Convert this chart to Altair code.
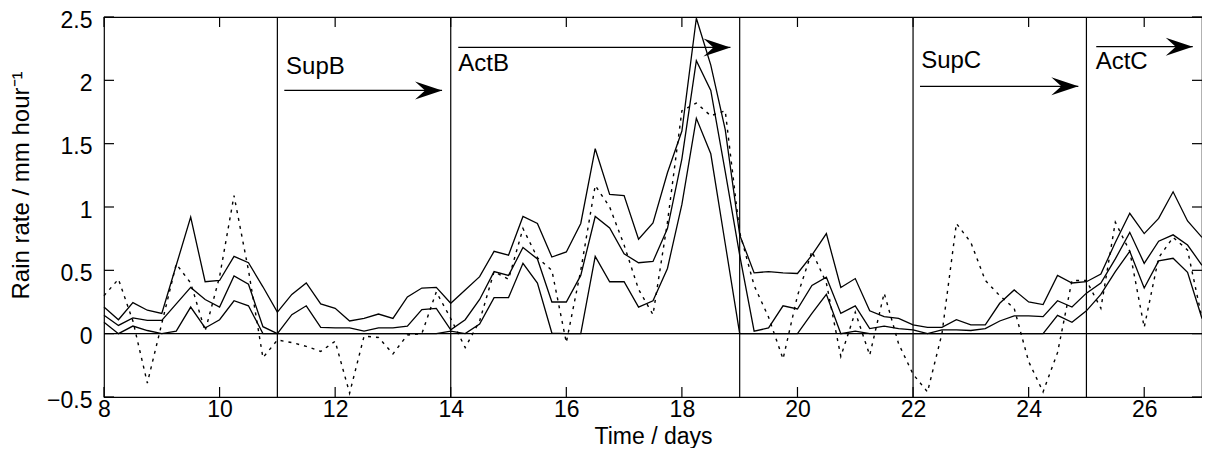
import altair as alt
import pandas as pd

# ---------------- data ----------------
days = [8 + 0.25 * i for i in range(77)]

upper = [
    0.21, 0.11, 0.245, 0.185,
    0.16, 0.54, 0.92, 0.41,
    0.42, 0.61, 0.56, 0.37,
    0.17, 0.31, 0.40, 0.235,
    0.20, 0.10, 0.12, 0.155,
    0.12, 0.29, 0.36, 0.365,
    0.24, 0.345, 0.45, 0.65,
    0.62, 0.925, 0.87, 0.605,
    0.645, 0.87, 1.46, 1.10,
    1.09, 0.745, 0.875, 1.27,
    1.60, 2.49, 2.12, 1.61,
    0.78, 0.48, 0.49, 0.48,
    0.475, 0.62, 0.79, 0.365,
    0.435, 0.18, 0.135, 0.12,
    0.07, 0.05, 0.05, 0.11,
    0.07, 0.07, 0.24, 0.345,
    0.25, 0.23, 0.46, 0.40,
    0.41, 0.47, 0.72, 0.95,
    0.79, 0.91, 1.12, 0.89,
    0.76,
]

middle = [
    0.145, 0.065, 0.125, 0.105,
    0.105, 0.235, 0.365, 0.27,
    0.21, 0.455, 0.39, 0.055,
    0.0, 0.15, 0.22, 0.05,
    0.045, 0.045, 0.02, 0.045,
    0.045, 0.06, 0.19, 0.20,
    0.03, 0.11, 0.27, 0.49,
    0.46, 0.68, 0.59, 0.25,
    0.25, 0.46, 0.925, 0.835,
    0.63, 0.56, 0.57, 0.83,
    1.38, 2.155, 1.92, 1.28,
    0.62, 0.02, 0.045, 0.22,
    0.195, 0.38, 0.445, 0.16,
    0.22, 0.04, 0.06, 0.04,
    0.03, 0.0, 0.03, 0.03,
    0.025, 0.04, 0.10, 0.14,
    0.14, 0.135, 0.26, 0.21,
    0.32, 0.40, 0.59, 0.80,
    0.555, 0.73, 0.78, 0.70,
    0.54,
]

lower = [
    0.09, 0.0, 0.06, 0.025,
    0.0, 0.02, 0.21, 0.045,
    0.11, 0.26, 0.22, 0.0,
    0.0, 0.0, 0.0, 0.0,
    0.0, 0.0, 0.0, 0.0,
    0.0, 0.0, 0.0, 0.0,
    0.02, 0.0, 0.075, 0.285,
    0.285, 0.555, 0.40, 0.005,
    0.0, 0.0, 0.61, 0.41,
    0.41, 0.21, 0.26, 0.515,
    1.02, 1.70, 1.42, 0.71,
    0.0, 0.0, 0.0, 0.0,
    0.0, 0.16, 0.31, 0.0,
    0.02, 0.0, 0.0, 0.0,
    0.0, 0.0, 0.0, 0.0,
    0.0, 0.0, 0.0, 0.0,
    0.0, 0.0, 0.145, 0.09,
    0.18, 0.31, 0.49, 0.65,
    0.36, 0.575, 0.595, 0.485,
    0.12,
]

dotted = [
    0.30, 0.43, 0.10, -0.39,
    0.08, 0.55, 0.40, 0.02,
    0.45, 1.09, 0.50, -0.19,
    -0.05, -0.07, -0.10, -0.14,
    -0.06, -0.47, -0.02, -0.03,
    -0.16, -0.01, 0.0, 0.33,
    0.12, -0.11, 0.10, 0.49,
    0.43, 0.83, 0.60, 0.50,
    -0.07, 0.50, 1.17, 1.00,
    0.70, 0.35, 0.15, 0.88,
    1.76, 1.82, 1.72, 1.76,
    0.80, 0.38, 0.13, -0.20,
    0.30, 0.65, 0.40, -0.18,
    0.17, -0.17, 0.32, -0.08,
    -0.32, -0.46, 0.0, 0.87,
    0.72, 0.42, 0.30, 0.20,
    -0.22, -0.46, -0.15, 0.42,
    0.42, 0.20, 0.88, 0.65,
    0.05, 0.60, 0.76, 0.66,
    0.12,
]

phase_bounds = [11, 14, 19, 22, 25]
x_ticks = [8, 10, 12, 14, 16, 18, 20, 22, 24, 26]
y_ticks = [-0.5, 0, 0.5, 1, 1.5, 2, 2.5]

arrow_labels = ["SupB", "ActB", "SupC", "ActC"]
arrow_x0 = [11.12, 14.13, 22.12, 25.17]
arrow_x1 = [13.85, 18.84, 24.86, 26.84]
arrow_y = [1.92, 2.26, 1.953, 2.266]
label_x = [11.15, 14.13, 22.14, 25.16]
label_y = [2.05, 2.07, 2.10, 2.09]

# ---------------- chart ----------------
W, H = 1098, 380
FONT = "Liberation Sans"
FS = 24
AFS = 23
ARROW = "M1,0L-1,-0.667L-0.26,0L-1,0.667Z"

x_scale = alt.Scale(domain=[8, 27], nice=False, zero=False)
y_scale = alt.Scale(domain=[-0.5, 2.5], nice=False, zero=False)

n = len(days)
lines_df = pd.DataFrame({
    "day": days * 3,
    "rate": upper + middle + lower,
    "series": ["upper"] * n + ["middle"] * n + ["lower"] * n,
})
dot_df = pd.DataFrame({"day": days, "rate": dotted})

xax = alt.Axis(values=x_ticks, ticks=False, domain=False, grid=False,
               labelFont=FONT, labelFontSize=AFS, labelColor="black",
               labelPadding=1, labelFlush=False, labelOverlap=False,
               title="Time / days", titleFont=FONT, titleFontSize=AFS,
               titleFontWeight="normal", titleColor="black",
               titleBaseline="alphabetic", titleY=46)
yax = alt.Axis(values=y_ticks, format="~g", ticks=False, domain=False, grid=False,
               labelFont=FONT, labelFontSize=AFS, labelColor="black",
               labelPadding=12, labelOffset=3, labelFlush=False, labelOverlap=False,
               title="Rain rate / mm hour⁻¹", titleFont=FONT, titleFontSize=FS,
               titleFontWeight="normal", titleColor="black",
               titleAngle=270, titleAlign="center", titleBaseline="middle",
               titleX=-83, titleY=168)


def X(field):
    return alt.X(field, type="quantitative", scale=x_scale, axis=xax)


def Y(field):
    return alt.Y(field, type="quantitative", scale=y_scale, axis=yax)


solid = alt.Chart(lines_df).mark_line(color="black", strokeWidth=1.3).encode(
    x=X("day"), y=Y("rate"), detail="series:N")

dots = alt.Chart(dot_df).mark_line(color="black", strokeWidth=1.4, strokeDash=[3, 5]).encode(
    x=X("day"), y=Y("rate"))

vlines = alt.Chart(pd.DataFrame({"day": phase_bounds})).mark_rule(
    color="black", strokeWidth=1.2).encode(x=X("day"))

zero_line = alt.Chart(pd.DataFrame({"rate": [0]})).mark_rule(
    color="black", strokeWidth=1.2).encode(y=Y("rate"))

xt = pd.DataFrame({"day": x_ticks})
yt = pd.DataFrame({"rate": y_ticks})
tick_style = dict(color="black", strokeWidth=1.2)
bottom_ticks = alt.Chart(xt).mark_rule(**tick_style).encode(
    x=X("day"), y=alt.value(H), y2=alt.value(H - 10))
top_ticks = alt.Chart(xt).mark_rule(**tick_style).encode(
    x=X("day"), y=alt.value(0), y2=alt.value(10))
left_ticks = alt.Chart(yt).mark_rule(**tick_style).encode(
    y=Y("rate"), x=alt.value(0), x2=alt.value(10))
right_ticks = alt.Chart(yt).mark_rule(**tick_style).encode(
    y=Y("rate"), x=alt.value(W), x2=alt.value(W - 10))

arr = pd.DataFrame({"label": arrow_labels, "x0": arrow_x0, "x1": arrow_x1,
                    "y": arrow_y, "lx": label_x, "ly": label_y})
shafts = alt.Chart(arr).mark_rule(color="black", strokeWidth=1.2).encode(
    x=X("x0"), x2="x1:Q", y=Y("y"))
heads = alt.Chart(arr).mark_point(shape=ARROW, size=729, filled=True, color="black",
                                  opacity=1, strokeWidth=0, xOffset=-13.5).encode(
    x=X("x1"), y=Y("y"))
labels = alt.Chart(arr).mark_text(align="left", baseline="alphabetic", font=FONT,
                                  fontSize=FS, color="black").encode(
    x=X("lx"), y=Y("ly"), text="label:N")

chart = alt.layer(
    solid, dots, vlines, zero_line,
    bottom_ticks, top_ticks, left_ticks, right_ticks,
    shafts, heads, labels,
).properties(
    width=W, height=H,
    padding={"left": 96, "top": 9, "right": 0, "bottom": 51},
    autosize=alt.AutoSizeParams(type="none"),
    background="white",
).configure_view(stroke="black", strokeWidth=1.2)

chart.save("out.html", embed_options={"renderer": "svg", "actions": False})
